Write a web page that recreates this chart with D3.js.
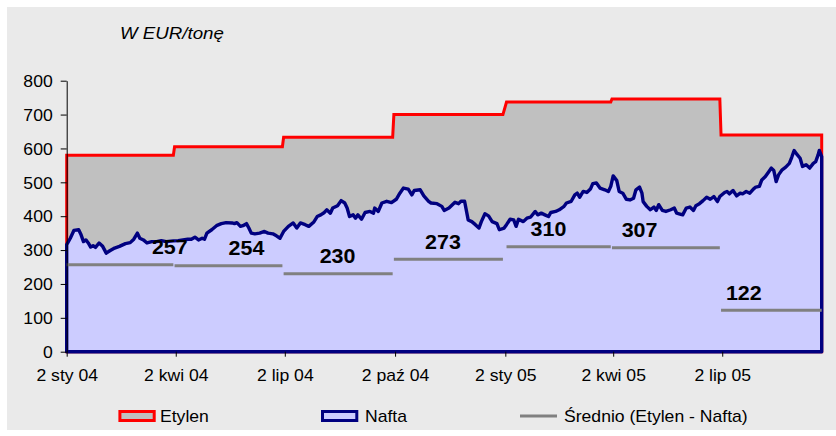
<!DOCTYPE html>
<html><head><meta charset="utf-8">
<script src="https://cdn.jsdelivr.net/npm/d3@7"></script>
<style>
body{margin:0;background:#fff}
svg{display:block}
text{font-family:Arial,"Liberation Sans",sans-serif;fill:#000}
</style>
</head><body>
<svg id="chart" width="836" height="436"></svg>
<script>
// ---------- DATA ----------
const title = "W EUR/tonę";
const startDate = "2004-01-02";
const endDate = "2005-09-23";
const quarterStarts = ["2004-01-02","2004-04-01","2004-07-01","2004-10-01","2005-01-01","2005-04-01","2005-07-01"];
const ethylenePrice = [580, 605, 633, 700, 737, 746, 640];
const avgSpread = [257, 254, 230, 273, 310, 307, 122];
const tickDates = ["2004-01-02","2004-04-02","2004-07-02","2004-10-02","2005-01-02","2005-04-02","2005-07-02"];
const tickLabels = ["2 sty 04","2 kwi 04","2 lip 04","2 paź 04","2 sty 05","2 kwi 05","2 lip 05"];
const yTicks = [0,100,200,300,400,500,600,700,800];
// Naphtha: days since 2 Jan 2004 and price (EUR/t)
const naphthaDay = [0,3,6,10,12,14,16,18,20,22,24,27,30,33,36,40,44,49,53,56,59,61,64,67,71,75,79,83,89,93,97,101,104,107,110,113,115,117,121,125,129,133,138,140,142,145,147,150,152,154,157,161,165,168,172,175,178,181,185,189,192,195,199,202,206,209,212,215,217,220,222,226,229,232,234,236,239,241,243,246,249,253,256,257,260,263,267,271,275,278,281,285,288,290,295,298,302,304,309,313,315,319,324,327,329,332,335,338,341,344,346,349,352,355,359,361,365,367,370,373,375,377,381,384,387,391,393,396,399,402,404,408,411,415,417,421,424,426,428,431,434,437,439,442,445,449,452,454,456,459,461,464,467,470,473,475,478,480,481,484,487,490,492,494,497,500,504,507,509,511,514,517,520,523,525,528,531,534,537,540,543,545,549,551,553,556,559,562,564,567,570,573,575,578,580,583,586,588,590,592,594,597,600,603,605,607,609,612,614,617,620,623,625,627,628,630];
const naphthaValue = [316,335,358,360,345,325,330,321,309,313,308,321,311,291,298,306,311,319,322,332,350,335,330,321,325,325,328,325,327,328,330,332,332,338,330,335,332,350,360,372,378,381,380,378,381,370,372,378,365,350,348,350,355,350,348,342,335,355,370,380,365,380,375,370,382,399,404,411,419,409,424,431,446,439,424,399,404,394,404,391,411,414,409,424,414,439,444,440,450,468,483,480,463,476,478,460,444,439,437,429,417,424,441,437,444,444,389,384,375,365,384,407,401,384,378,360,365,375,391,389,370,391,384,394,397,414,404,409,404,399,411,414,419,429,439,444,463,468,456,473,470,480,496,498,483,478,473,488,519,505,473,468,450,448,453,478,486,468,443,429,419,427,417,434,417,414,419,424,409,407,404,424,427,417,431,437,446,456,450,458,443,458,470,473,466,476,460,468,466,473,468,480,486,488,507,517,532,542,535,502,522,537,545,556,574,594,584,571,547,552,542,556,561,581,594,576];
// label anchor days (where Excel placed the average labels)
const labelDay = [86, 150, 226, 314, 402, 478, 565];

// ---------- SETUP ----------
const svg = d3.select("#chart");
const parse = d3.timeParse("%Y-%m-%d");
const t0 = parse(startDate), t1 = parse(endDate);
const x = d3.scaleTime().domain([t0, t1]).range([66.7, 821.7]);
const y = d3.scaleLinear().domain([0, 800]).range([351.7, 80.7]);
const SX = 1.1; // horizontal text stretch of the original

function stretchText(sel){
  sel.each(function(){
    const t = d3.select(this);
    const tx = +t.attr("x") || 0, ty = +t.attr("y") || 0;
    t.attr("x", 0).attr("y", 0).attr("transform", `translate(${tx},${ty}) scale(${SX},1)`);
  });
}

// chart area background
svg.append("rect").attr("x", 7).attr("y", 7).attr("width", 829).attr("height", 423).attr("fill", "#EAEAEA");

// business-day helpers
const isWeekend = d => d.getDay() === 0 || d.getDay() === 6;
function firstBiz(d){ let r = new Date(d); while(isWeekend(r)) r = d3.timeDay.offset(r, 1); return r; }
function prevBiz(d){ let r = d3.timeDay.offset(d, -1); while(isWeekend(r)) r = d3.timeDay.offset(r, -1); return r; }

const qFirst = quarterStarts.map(s => firstBiz(parse(s)));
const qLast = qFirst.map((d, i) => i < qFirst.length - 1 ? prevBiz(qFirst[i + 1]) : t1);

// ethylene step series
const ethPts = [];
qFirst.forEach((d, i) => {
  ethPts.push([d, ethylenePrice[i]]);
  ethPts.push([qLast[i], ethylenePrice[i]]);
});
const ethPoly = ethPts.concat([[t1, 0], [t0, 0]]);

const naphPts = naphthaDay.map((dd, i) => [d3.timeDay.offset(t0, dd), naphthaValue[i]]);
const naphPoly = naphPts.concat([[t1, 0], [t0, 0]]);

const line = d3.line().x(d => x(d[0])).y(d => y(d[1]));

svg.append("path").attr("d", line(ethPoly) + "Z")
  .attr("fill", "#C0C0C0").attr("stroke", "#FF0000").attr("stroke-width", 3).attr("stroke-linejoin", "miter");

svg.append("path").attr("d", line(naphPoly) + "Z")
  .attr("fill", "#CCCCFF").attr("stroke", "#000080").attr("stroke-width", 3.4).attr("stroke-linejoin", "round");

// average spread segments
svg.append("g").selectAll("line").data(avgSpread).join("line")
  .attr("x1", (d, i) => x(qFirst[i])).attr("x2", (d, i) => x(qLast[i]))
  .attr("y1", d => y(d)).attr("y2", d => y(d))
  .attr("stroke", "#808080").attr("stroke-width", 3);

// axes
const yAxis = svg.append("g").attr("transform", "translate(66.7,0)")
  .call(d3.axisLeft(y).tickValues(yTicks).tickFormat(d3.format("d")).tickSize(6).tickSizeOuter(0).tickPadding(8));
yAxis.select(".domain").attr("stroke", "#000");
yAxis.selectAll("line").attr("stroke", "#000");
yAxis.selectAll("text").attr("font-size", 16).attr("font-family", "Arial, 'Liberation Sans', sans-serif").attr("dy", "0.36em").call(stretchText);

const xAxis = svg.append("g").attr("transform", "translate(0,351.7)")
  .call(d3.axisBottom(x).tickValues(tickDates.map(parse)).tickFormat((d, i) => tickLabels[i]).tickSize(5).tickSizeOuter(0).tickPadding(13));
xAxis.select(".domain").remove();
xAxis.selectAll("line").attr("stroke", "#000");
xAxis.selectAll("text").attr("font-size", 16).attr("font-family", "Arial, 'Liberation Sans', sans-serif").call(stretchText);

// average labels
svg.append("g").selectAll("text").data(avgSpread).join("text")
  .attr("x", (d, i) => x(d3.timeDay.offset(t0, labelDay[i])))
  .attr("y", d => y(d) - 10.5)
  .attr("text-anchor", "middle").attr("font-size", 19.5).attr("font-weight", "bold")
  .text(d => d).call(stretchText);

// title
svg.append("text").attr("x", 120).attr("y", 39).attr("font-size", 17).attr("font-style", "italic")
  .text(title).call(stretchText);

// legend
const lg = svg.append("g");
lg.append("rect").attr("x", 119.9).attr("y", 411.5).attr("width", 34.3).attr("height", 9)
  .attr("fill", "#C0C0C0").attr("stroke", "#FF0000").attr("stroke-width", 3);
lg.append("text").attr("x", 160).attr("y", 421.5).attr("font-size", 16).text("Etylen").call(stretchText);
lg.append("rect").attr("x", 322.5).attr("y", 411.5).attr("width", 34.3).attr("height", 9)
  .attr("fill", "#CCCCFF").attr("stroke", "#000080").attr("stroke-width", 3);
lg.append("text").attr("x", 365).attr("y", 421.5).attr("font-size", 16).text("Nafta").call(stretchText);
lg.append("line").attr("x1", 520).attr("x2", 557).attr("y1", 416).attr("y2", 416)
  .attr("stroke", "#808080").attr("stroke-width", 3);
lg.append("text").attr("x", 564).attr("y", 421.5).attr("font-size", 16).text("Średnio (Etylen - Nafta)").call(stretchText);
</script>
</body></html>
